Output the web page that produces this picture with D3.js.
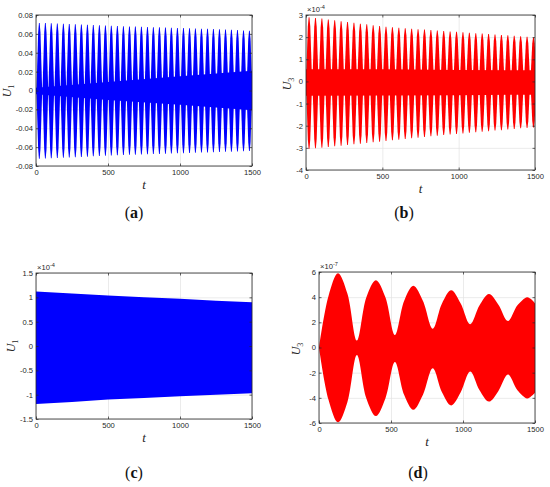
<!DOCTYPE html>
<html>
<head>
<meta charset="utf-8">
<script src="https://cdn.jsdelivr.net/npm/d3@7"></script>
<style>
  body { margin: 0; background: #fff; }
  svg { display: block; }
  .tick text { font-family: "Liberation Sans", Arial, sans-serif; font-size: 7.6px; fill: #262626; }
</style>
</head>
<body>
<svg width="550" height="487"></svg>
<script>
// ---------- data ----------
const xTicks = [0, 500, 1000, 1500]

// (a) U1 : beat spikes on a thin core
const spikeTimesA = [23, 65, 106, 148, 190, 231, 273, 315, 357, 398, 440, 482, 523, 565, 607, 649, 690, 732,
  774, 815, 857, 899, 940, 982, 1024, 1066, 1107, 1149, 1191, 1232, 1274, 1316, 1357, 1399, 1441, 1482]
const spikeHiA = [0.0715, 0.0714, 0.0712, 0.0710, 0.0708, 0.0705, 0.0702, 0.0699, 0.0697, 0.0694, 0.0691, 0.0689,
  0.0686, 0.0684, 0.0681, 0.0679, 0.0677, 0.0675, 0.0673, 0.0671, 0.0669, 0.0667, 0.0665, 0.0663,
  0.0661, 0.0659, 0.0657, 0.0655, 0.0653, 0.0651, 0.0648, 0.0646, 0.0643, 0.0640, 0.0637, 0.0634]
const spikeLoA = [-0.0722, -0.0720, -0.0718, -0.0716, -0.0713, -0.0710, -0.0707, -0.0704, -0.0701, -0.0698, -0.0695, -0.0692,
  -0.0689, -0.0686, -0.0684, -0.0682, -0.0680, -0.0678, -0.0676, -0.0674, -0.0672, -0.0670, -0.0668, -0.0666,
  -0.0664, -0.0662, -0.0660, -0.0658, -0.0656, -0.0654, -0.0652, -0.0650, -0.0648, -0.0646, -0.0644, -0.0642]
const coreTimesA = [0, 500, 1000, 1500]
const coreHiA = [0.003, 0.009, 0.015, 0.021]
const coreLoA = [-0.004, -0.010, -0.015, -0.021]
const yTicksA = [-0.08, -0.06, -0.04, -0.02, 0, 0.02, 0.04, 0.06, 0.08]

// (b) U3 (x 1e-4)
const spikeTimesB = [20, 62, 104, 146, 188, 230, 272, 314, 356, 398, 440, 482, 524, 566, 608, 650, 692, 734,
  776, 818, 860, 902, 944, 986, 1028, 1070, 1112, 1154, 1196, 1238, 1280, 1322, 1364, 1406, 1448, 1490]
const spikeHiB = [2.90, 2.87, 2.84, 2.80, 2.76, 2.72, 2.68, 2.65, 2.61, 2.58, 2.54, 2.50, 2.47, 2.45, 2.42, 2.40, 2.38, 2.36,
  2.34, 2.32, 2.30, 2.28, 2.26, 2.24, 2.22, 2.20, 2.18, 2.16, 2.14, 2.12, 2.10, 2.08, 2.06, 2.04, 2.02, 2.00]
const spikeLoB = [-3.05, -3.02, -2.99, -2.96, -2.93, -2.90, -2.87, -2.84, -2.81, -2.78, -2.75, -2.72, -2.69, -2.66, -2.63, -2.60, -2.57, -2.54,
  -2.51, -2.48, -2.45, -2.42, -2.40, -2.37, -2.35, -2.32, -2.30, -2.27, -2.25, -2.22, -2.20, -2.17, -2.15, -2.12, -2.10, -2.08]
const coreTimesB = [0, 500, 1000, 1500]
const coreHiB = [0.55, 0.55, 0.52, 0.50]
const coreLoB = [-0.65, -0.64, -0.62, -0.60]
const yTicksB = [-4, -3, -2, -1, 0, 1, 2, 3]

// (c) U1 (x 1e-4) : envelope of a dense oscillation
const envTimesC = [0, 250, 500, 750, 1000, 1250, 1500]
const envHiC = [1.12, 1.08, 1.04, 1.00, 0.97, 0.93, 0.90]
const envLoC = [-1.19, -1.15, -1.10, -1.07, -1.03, -1.00, -0.97]
const yTicksC = [-1.5, -1, -0.5, 0, 0.5, 1, 1.5]

// (d) U3 (x 1e-7) : beating envelope (peaks, troughs and points half-way between)
const envTimesD = [0, 66, 132, 197, 263, 329, 395, 461, 527, 591, 655, 722, 790, 854, 918, 984, 1050,
  1115, 1180, 1246, 1312, 1378, 1445, 1472, 1500]
const envHiD = [0, 4.1, 5.9, 4.3, 0.55, 4.0, 5.35, 4.0, 1.0, 3.7, 4.9, 3.7, 1.5, 3.5, 4.55, 3.5, 1.85,
  3.35, 4.25, 3.4, 2.1, 3.35, 4.0, 3.85, 3.5]
const envLoD = [0, -4.15, -5.95, -4.35, -0.6, -4.05, -5.45, -4.05, -1.15, -3.75, -4.95, -3.75, -1.65, -3.55, -4.6, -3.55, -1.9,
  -3.4, -4.3, -3.45, -2.15, -3.4, -4.05, -3.9, -3.6]
const yTicksD = [-6, -4, -2, 0, 2, 4, 6]

const BLUE = "#0000ff"
const RED = "#ff0000"
const INK = "#262626"

const svg = d3.select("svg")
svg.append("rect").attr("width", 550).attr("height", 487).attr("fill", "#fff")

// sets up one axes box: grid, clip, scales
const makePanel = function (p) {
  const x = d3.scaleLinear().domain([0, 1500]).range([p.left, p.right])
  const y = d3.scaleLinear().domain([p.yTicks[0], p.yTicks[p.yTicks.length - 1]]).range([p.bottom, p.top])
  const w = p.right - p.left
  const h = p.bottom - p.top
  const g = svg.append("g")

  // light grid behind the data
  g.append("g")
    .attr("class", "grid")
    .attr("transform", `translate(0,${p.bottom})`)
    .call(d3.axisBottom(x).tickValues(xTicks).tickSize(-h).tickFormat(""))
  g.append("g")
    .attr("class", "grid")
    .attr("transform", `translate(${p.left},0)`)
    .call(d3.axisLeft(y).tickValues(p.yTicks).tickSize(-w).tickFormat(""))
  g.selectAll(".grid .domain").remove()
  g.selectAll(".grid line").attr("stroke", "#e2e2e2").attr("stroke-width", 0.7)

  const clipId = "clip-" + p.name
  svg.append("clipPath").attr("id", clipId)
    .append("rect").attr("x", p.left).attr("y", p.top).attr("width", w).attr("height", h)
  const data = g.append("g").attr("clip-path", `url(#${clipId})`)

  return { g, data, x, y, w, h }
}

// ticks, labels and box on top
const finishPanel = function (p, s) {
  const { x, y } = s
  const g = s.g.append("g").attr("class", "frame")
  g.append("g")
    .attr("transform", `translate(0,${p.bottom})`)
    .call(d3.axisBottom(x).tickValues(xTicks).tickSizeInner(-2.5).tickSizeOuter(0).tickPadding(4).tickFormat(d3.format("d")))
  g.append("g")
    .attr("transform", `translate(0,${p.top})`)
    .call(d3.axisTop(x).tickValues(xTicks).tickSizeInner(-2.5).tickSizeOuter(0).tickFormat(""))
  g.append("g")
    .attr("transform", `translate(${p.left},0)`)
    .call(d3.axisLeft(y).tickValues(p.yTicks).tickSizeInner(-2.5).tickSizeOuter(0).tickPadding(3).tickFormat(p.fmt))
  g.append("g")
    .attr("transform", `translate(${p.right},0)`)
    .call(d3.axisRight(y).tickValues(p.yTicks).tickSizeInner(-2.5).tickSizeOuter(0).tickFormat(""))
  g.selectAll(".domain").remove()
  g.selectAll(".tick line").attr("stroke", INK).attr("stroke-width", 0.7)

  g.append("rect")
    .attr("x", p.left).attr("y", p.top)
    .attr("width", s.w).attr("height", s.h)
    .attr("fill", "none").attr("stroke", INK).attr("stroke-width", 0.8)

  // exponent above the axes
  if (p.exp) {
    const e = g.append("text")
      .attr("x", p.left + 1).attr("y", p.top - 3)
      .attr("font-family", "Liberation Sans, Arial, sans-serif").attr("font-size", 7.6).attr("fill", INK)
      .text("\u00d710")
    e.append("tspan").attr("dy", -3.5).attr("font-size", 5.6).text(p.exp)
  }

  // x label
  g.append("text")
    .attr("x", (p.left + p.right) / 2).attr("y", p.bottom + 23)
    .attr("text-anchor", "middle")
    .attr("font-family", "Liberation Serif, serif").attr("font-style", "italic").attr("font-size", 13)
    .attr("fill", INK)
    .text("t")

  // y label, rotated
  const yl = g.append("text")
    .attr("transform", `translate(${p.ylabX},${p.ylabY}) rotate(-90)`)
    .attr("text-anchor", "middle")
    .attr("font-family", "Liberation Serif, serif").attr("font-style", "italic").attr("font-size", 12)
    .attr("fill", INK)
    .text("U")
  yl.append("tspan").attr("dy", 2.5).attr("font-size", 8).attr("font-style", "normal").text(p.sub)

  // panel caption "(a)"
  const cap = svg.append("text")
    .attr("x", p.capX).attr("y", p.capY)
    .attr("text-anchor", "middle")
    .attr("font-family", "Liberation Serif, serif").attr("font-size", 16).attr("fill", "#111")
    .text("(")
  cap.append("tspan").attr("font-weight", "bold").text(p.cap)
  cap.append("tspan").text(")")
}

// spikes of a beat: one thin polygon per spike, width given in t units
const drawSpikes = function (s, times, hi, lo, core, color) {
  const { x, y, data } = s
  const line = d3.line().x(d => x(d[0])).y(d => y(d[1]))
  const area = d3.area().x((d, i) => x(core.t[i])).y0((d, i) => y(core.lo[i])).y1((d, i) => y(core.hi[i]))
  data.append("path").attr("d", area(core.t)).attr("fill", color)
  data.selectAll("path.spike")
    .data(times)
    .enter()
    .append("path")
    .attr("class", "spike")
    .attr("fill", color)
    .attr("d", (t, i) => {
      const h = hi[i], l = lo[i]
      const pts = [[t - 2.5, h], [t - 8, 0.86 * h], [t - 20, 0], [t - 8, 0.86 * l], [t - 2.5, l],
                   [t + 2.5, l], [t + 8, 0.86 * l], [t + 20, 0], [t + 8, 0.86 * h], [t + 2.5, h]]
      return line(pts) + "Z"
    })
}

const drawEnvelope = function (s, times, hi, lo, color, curve) {
  const { x, y, data } = s
  const area = d3.area()
    .curve(curve)
    .x((d, i) => x(times[i]))
    .y0((d, i) => y(lo[i]))
    .y1((d, i) => y(hi[i]))
  data.append("path").attr("d", area(times)).attr("fill", color)
}

const fmtA = d => d === 0 ? "0" : d3.format(".2f")(d).replace("\u2212", "-")
const fmtPlain = d => String(d)

// ---------- (a) ----------
const pA = { name: "a", left: 36, right: 252, top: 15, bottom: 166, yTicks: yTicksA, fmt: fmtA,
  sub: "1", ylabX: 11, ylabY: 91, cap: "a", capX: 134, capY: 218 }
const sA = makePanel(pA)
drawSpikes(sA, spikeTimesA, spikeHiA, spikeLoA, { t: coreTimesA, hi: coreHiA, lo: coreLoA }, BLUE)
finishPanel(pA, sA)

// ---------- (b) ----------
const pB = { name: "b", left: 306, right: 535, top: 15, bottom: 170, yTicks: yTicksB, fmt: fmtPlain, exp: "-4",
  sub: "3", ylabX: 291, ylabY: 84, cap: "b", capX: 404, capY: 218 }
const sB = makePanel(pB)
drawSpikes(sB, spikeTimesB, spikeHiB, spikeLoB, { t: coreTimesB, hi: coreHiB, lo: coreLoB }, RED)
finishPanel(pB, sB)

// ---------- (c) ----------
const pC = { name: "c", left: 36, right: 252, top: 273, bottom: 419, yTicks: yTicksC, fmt: fmtPlain, exp: "-4",
  sub: "1", ylabX: 15, ylabY: 346, cap: "c", capX: 134, capY: 478 }
const sC = makePanel(pC)
drawEnvelope(sC, envTimesC, envHiC, envLoC, BLUE, d3.curveLinear)
finishPanel(pC, sC)

// ---------- (d) ----------
const pD = { name: "d", left: 319, right: 535, top: 272, bottom: 423, yTicks: yTicksD, fmt: fmtPlain, exp: "-7",
  sub: "3", ylabX: 300, ylabY: 349, cap: "d", capX: 418, capY: 478 }
const sD = makePanel(pD)
drawEnvelope(sD, envTimesD, envHiD, envLoD, RED, d3.curveCatmullRom.alpha(0.5))
finishPanel(pD, sD)
</script>
</body>
</html>
